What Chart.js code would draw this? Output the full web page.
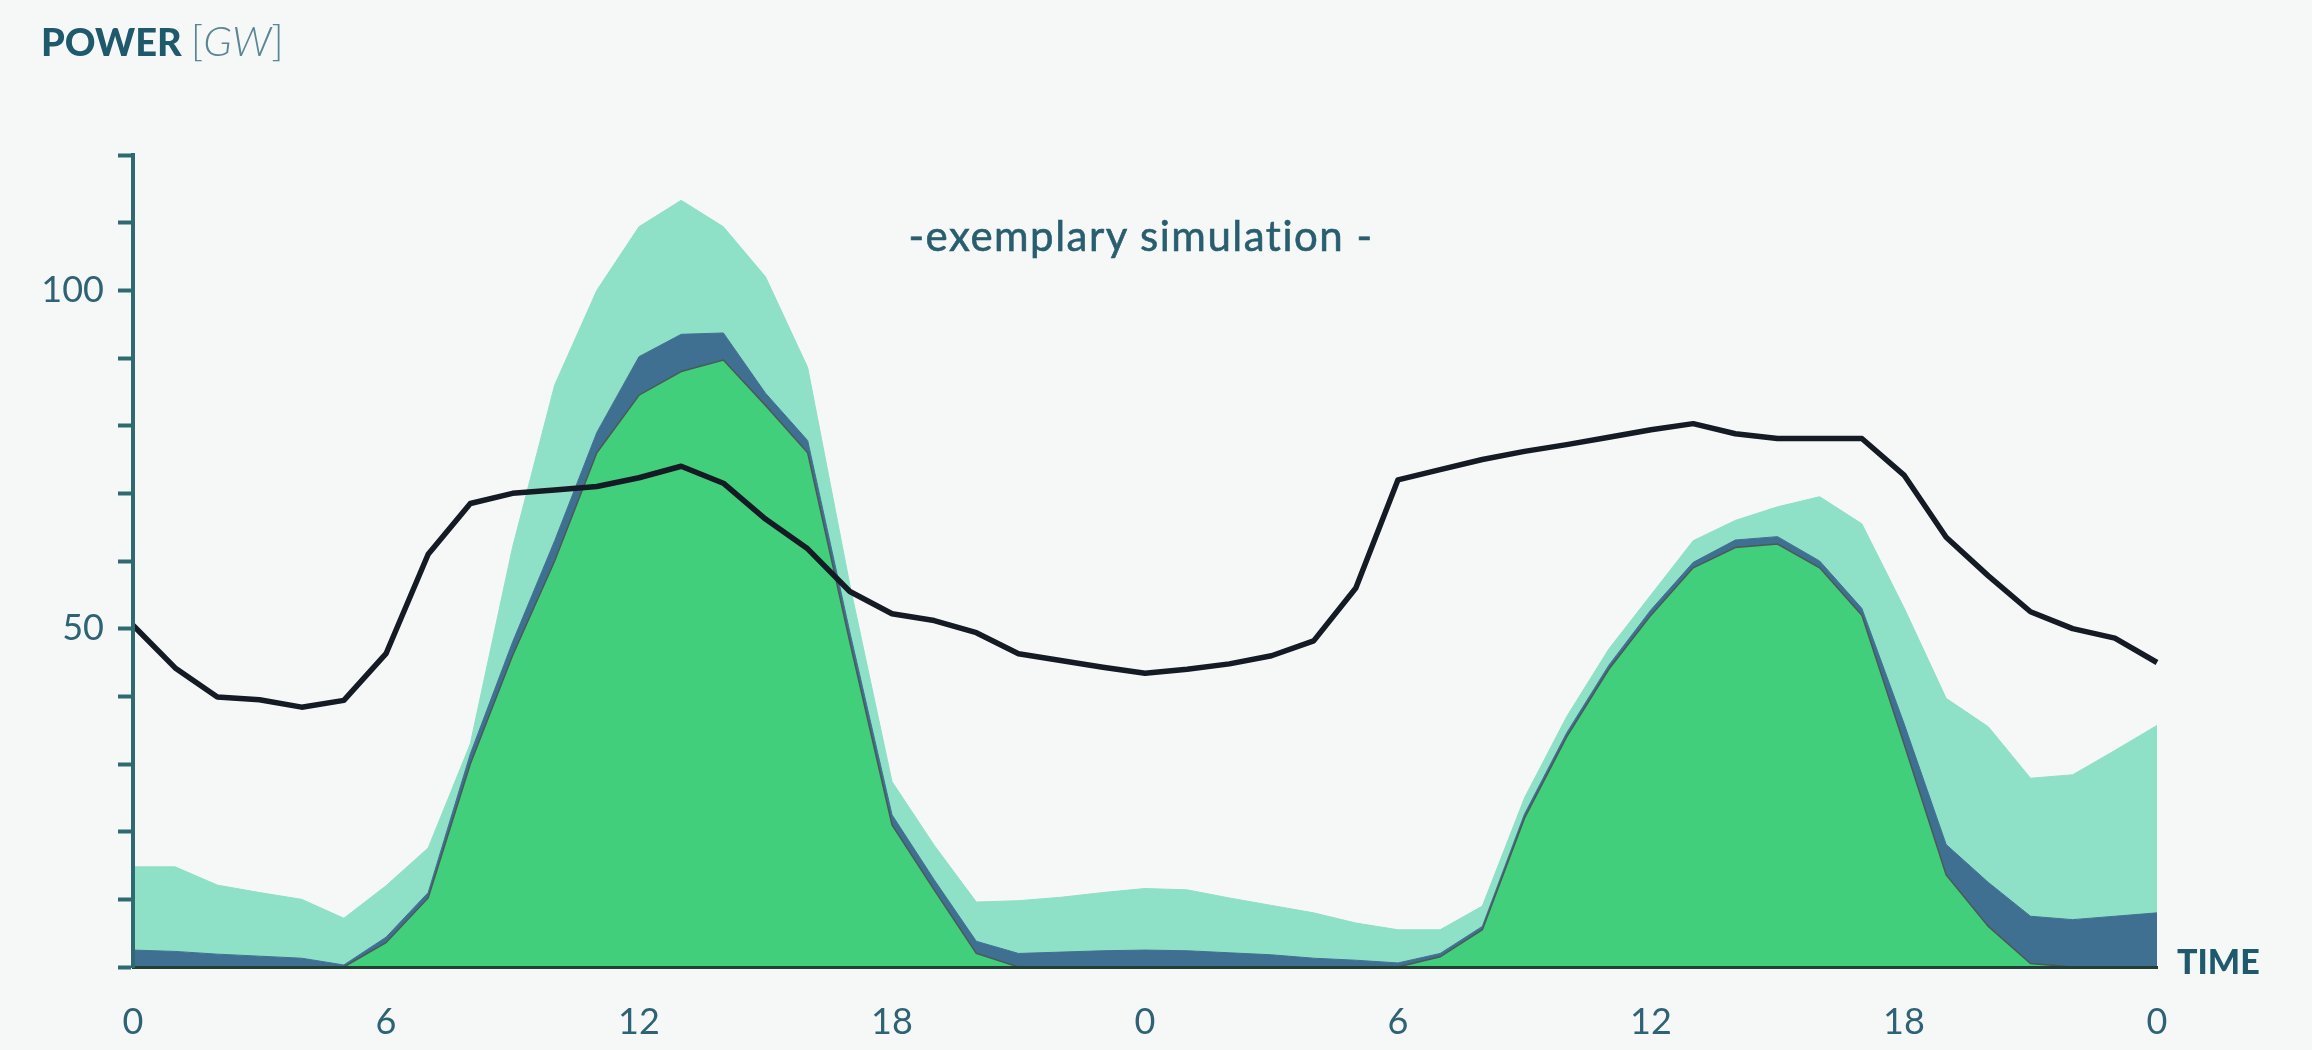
<!DOCTYPE html>
<html>
<head>
<meta charset="utf-8">
<script src="https://cdn.jsdelivr.net/npm/chart.js@4.4.1/dist/chart.umd.min.js"></script>
<style>
  html, body { margin: 0; padding: 0; background: #f6f7f7; }
  #wrap { position: relative; width: 2312px; height: 1050px; overflow: hidden; }
  #chart { position: absolute; left: 0; top: 0; }
  .txt { position: absolute; font-family: Lato, 'Open Sans', sans-serif; color: #1f5a6c; white-space: nowrap; line-height: 1; }
  #power { left: 41px; top: 19px; font-size: 38px; font-weight: 900; }
  #power .unit { font-size: 42px; font-weight: 300; color: #5a8794; }
  #power .unit i { font-style: italic; }
  #sub { left: 1141px; top: 214px; transform: translateX(-50%); font-size: 42px; font-weight: 400; letter-spacing: 1.5px; color: #285e6e; -webkit-text-stroke: 0.6px #285e6e; }
  #time { left: 2177px; top: 944px; font-size: 34px; font-weight: 900; }
</style>
</head>
<body>
<div id="wrap">
  <canvas id="chart" width="2312" height="1050"></canvas>
  <div class="txt" id="power">POWER <span class="unit">[<i>GW</i>]</span></div>
  <div class="txt" id="sub">-exemplary simulation -</div>
  <div class="txt" id="time">TIME</div>
</div>
<script>
// hours over two days
let hours = [0,1,2,3,4,5,6,7,8,9,10,11,12,13,14,15,16,17,18,19,20,21,22,23,24,
             25,26,27,28,29,30,31,32,33,34,35,36,37,38,39,40,41,42,43,44,45,46,47,48];
let tickText = ['0', '6', '12', '18', '0', '6', '12', '18', '0'];

// GW, stacked: green + blue + light teal
let solar = [0,0,0,0,0,0,3.6,10.2,30,46,60,76,84.5,88,89.7,83,76,48,21,11.4,2,0,0,0,0,
             0,0,0,0,0,0,1.5,5.5,22,34,44,52,59,62,62.5,59,52,33,13.6,6,0.5,0,0,0];
let wind = [2.5,2.3,1.9,1.6,1.3,0.3,0.8,0.8,1.5,2,3,3,5.7,5.5,4,1.8,1.8,1.5,1.5,1.5,1.8,2,2.2,2.4,2.5,
            2.4,2.1,1.8,1.3,1,0.6,0.5,0.5,0.6,0.6,0.6,0.8,0.8,1.1,1.1,1,1,3,4.5,6.5,7,7,7.5,8];
let other = [12.3,12.5,10.2,9.4,8.7,6.9,7.6,6.6,1.5,14,23,21,19.2,19.8,15.7,17.2,10.8,7,4.9,5.1,5.8,7.8,8.1,8.6,9.1,
             9,8.1,7.3,6.7,5.5,4.9,3.5,3,2.4,2.4,2.4,2.2,3.2,2.9,4.4,9.5,12.5,17.1,21.6,23,20.4,21.4,24.5,27.7];
// demand line
let load = [50.5,44.2,39.9,39.5,38.4,39.4,46.3,61,68.5,70,70.5,71,72.3,74,71.5,66.2,61.8,55.5,52.2,51.2,49.4,46.3,45.3,44.3,43.4,
            44,44.8,46,48.2,56,72,73.5,75,76.2,77.2,78.3,79.4,80.3,78.8,78.1,78.1,78.1,72.7,63.5,57.8,52.5,50,48.6,45];

const axisColor = '#2f6a70';
const labelColor = '#2e6275';

const ctx = document.getElementById('chart');

new Chart(ctx, {
    type: 'line',
    data: {
        labels: hours,
        datasets: [
            {
                label: 'solar',
                data: solar,
                stack: 'gen',
                fill: 'origin',
                backgroundColor: '#42cf7b',
                borderColor: '#4a5a57',
                borderWidth: 1.5,
                pointRadius: 0,
                order: 1
            },
            {
                label: 'wind',
                data: wind,
                stack: 'gen',
                fill: '-1',
                backgroundColor: '#3f7092',
                borderColor: '#3f7092',
                borderWidth: 1,
                pointRadius: 0,
                order: 2
            },
            {
                label: 'other',
                data: other,
                stack: 'gen',
                fill: '-1',
                backgroundColor: '#8ee0c6',
                borderColor: '#8ee0c6',
                borderWidth: 1,
                pointRadius: 0,
                order: 3
            },
            {
                label: 'load',
                data: load,
                stack: 'load',
                fill: false,
                borderColor: '#141b25',
                borderWidth: 5.5,
                borderJoinStyle: 'round',
                pointRadius: 0,
                tension: 0,
                order: 0
            }
        ]
    },
    options: {
        responsive: false,
        animation: false,
        layout: { padding: { left: 0, top: 155, right: 155, bottom: 0 } },
        plugins: {
            legend: { display: false },
            tooltip: { enabled: false }
        },
        scales: {
            x: {
                type: 'category',
                grid: { display: false, drawTicks: false },
                border: { display: true, color: '#223f36', width: 3, z: 1 },
                ticks: {
                    autoSkip: false,
                    maxRotation: 0,
                    padding: 34,
                    color: labelColor,
                    font: { family: 'Lato', size: 36 },
                    callback: function (val, i) {
                        return i % 6 === 0 ? tickText[i / 6] : '';
                    }
                },
                afterFit: function (s) { s.height = 83; }
            },
            y: {
                stacked: true,
                min: 0,
                max: 120,
                grid: {
                    display: true,
                    drawOnChartArea: false,
                    drawTicks: true,
                    tickLength: 15,
                    tickWidth: 4,
                    tickColor: axisColor
                },
                border: { display: true, color: axisColor, width: 4, z: 1 },
                ticks: {
                    stepSize: 10,
                    padding: 14,
                    color: labelColor,
                    font: { family: 'Lato', size: 36 },
                    callback: function (v) {
                        return (v === 50 || v === 100) ? v : '';
                    }
                },
                afterFit: function (s) { s.width = 133; }
            }
        }
    }
});
</script>
</body>
</html>
